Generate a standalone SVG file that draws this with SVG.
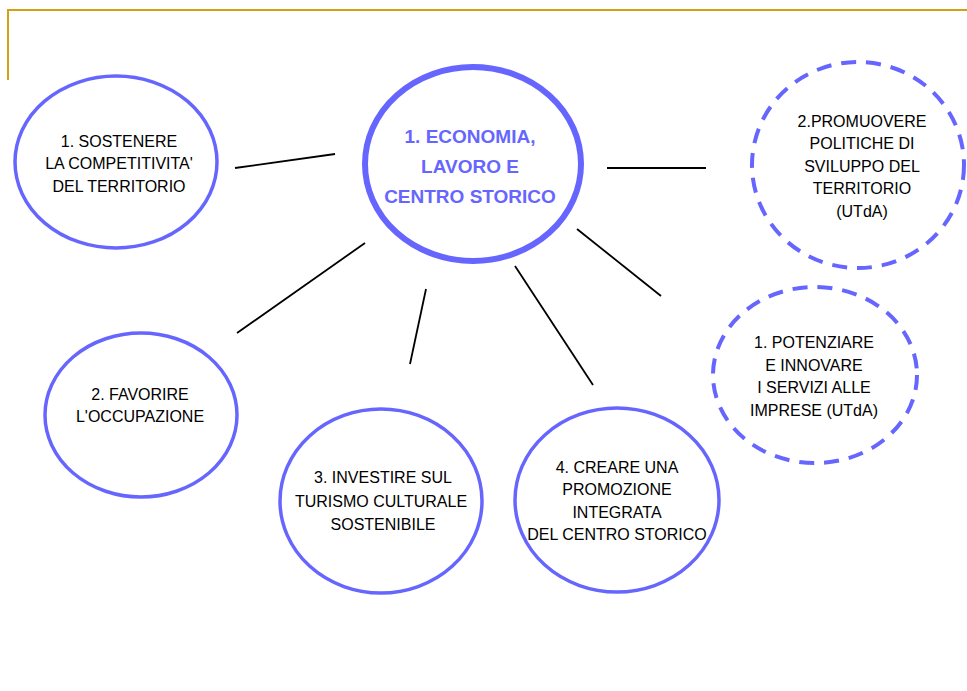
<svg xmlns="http://www.w3.org/2000/svg" width="967" height="691" viewBox="0 0 967 691">
<style>
.node{fill:#fff;stroke:#6666FF;stroke-width:3.5}
.dash{fill:#fff;stroke:#6666FF;stroke-width:4;stroke-dasharray:15 10}
.main{fill:#fff;stroke:#6666FF;stroke-width:6}
.t{font-family:"Liberation Sans",Arial,sans-serif;font-size:16px;fill:#000;text-anchor:middle}
.tm{font-family:"Liberation Sans",Arial,sans-serif;font-size:19px;font-weight:bold;fill:#6666FF;text-anchor:middle}
.conn line{stroke:#000;stroke-width:1.8}
</style>
<rect width="967" height="691" fill="#fff"/>
<g id="frame" fill="none" stroke="#D4A017" stroke-width="2">
<polyline points="8,80 8,10 967,10"/>
</g>
<g class="conn" id="connectors">
<line x1="235" y1="168" x2="335" y2="154"/>
<line x1="607" y1="168" x2="706" y2="168"/>
<line x1="577" y1="229" x2="661" y2="296"/>
<line x1="237" y1="333" x2="365" y2="243"/>
<line x1="426" y1="289" x2="410" y2="364"/>
<line x1="515" y1="266" x2="593" y2="385"/>
</g>
<g id="n-main">
<ellipse class="main" cx="473" cy="164" rx="108" ry="97"/>
<text class="tm" x="470" y="143">1. ECONOMIA,</text>
<text class="tm" x="470" y="173">LAVORO E</text>
<text class="tm" x="470" y="203">CENTRO STORICO</text>
</g>
<g id="n-sostenere">
<ellipse class="node" cx="116" cy="162" rx="101" ry="86"/>
<text class="t" x="119" y="147">1. SOSTENERE</text>
<text class="t" x="119" y="169">LA COMPETITIVITA'</text>
<text class="t" x="119" y="192">DEL TERRITORIO</text>
</g>
<g id="n-promuovere">
<ellipse class="dash" cx="858" cy="165" rx="106" ry="103"/>
<text class="t" x="862" y="127">2.PROMUOVERE</text>
<text class="t" x="862" y="149">POLITICHE DI</text>
<text class="t" x="862" y="172">SVILUPPO DEL</text>
<text class="t" x="862" y="194">TERRITORIO</text>
<text class="t" x="862" y="217">(UTdA)</text>
</g>
<g id="n-potenziare">
<ellipse class="dash" cx="815" cy="375" rx="102" ry="88"/>
<text class="t" x="814" y="348">1. POTENZIARE</text>
<text class="t" x="814" y="371">E INNOVARE</text>
<text class="t" x="814" y="393">I SERVIZI ALLE</text>
<text class="t" x="814" y="416">IMPRESE (UTdA)</text>
</g>
<g id="n-favorire">
<ellipse class="node" cx="141" cy="415" rx="96" ry="82"/>
<text class="t" x="140" y="400">2. FAVORIRE</text>
<text class="t" x="140" y="422">L'OCCUPAZIONE</text>
</g>
<g id="n-investire">
<ellipse class="node" cx="381" cy="501" rx="101" ry="92"/>
<text class="t" x="383" y="483">3. INVESTIRE SUL</text>
<text class="t" x="381" y="507">TURISMO CULTURALE</text>
<text class="t" x="383" y="530">SOSTENIBILE</text>
</g>
<g id="n-creare">
<ellipse class="node" cx="617" cy="500" rx="102" ry="92"/>
<text class="t" x="617" y="473">4. CREARE UNA</text>
<text class="t" x="617" y="495">PROMOZIONE</text>
<text class="t" x="617" y="518">INTEGRATA</text>
<text class="t" x="617" y="540">DEL CENTRO STORICO</text>
</g>
</svg>
